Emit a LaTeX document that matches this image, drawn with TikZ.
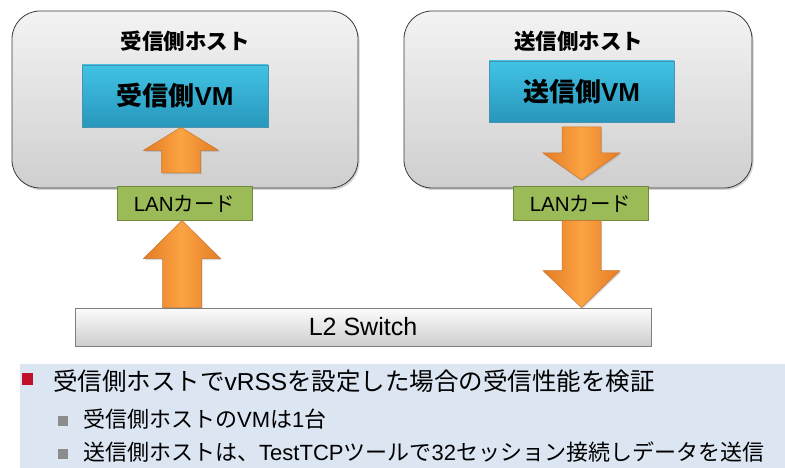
\documentclass[tikz,border=0pt]{standalone}
\usepackage{fontspec}
\setmainfont{Noto Sans CJK JP}
\newfontfamily\latf{Liberation Sans}
\newcommand{\lt}[1]{{\latf #1}}
\usetikzlibrary{calc,shadows}
\definecolor{hostline}{HTML}{3A3A3A}
\definecolor{hosttop}{HTML}{F3F3F3}
\definecolor{hostbot}{HTML}{CFCFCF}
\definecolor{vmtop}{HTML}{41C3E4}
\definecolor{vmbot}{HTML}{2897BC}
\definecolor{vmline}{HTML}{4A93AE}
\definecolor{lanfill}{HTML}{9BBB59}
\definecolor{lanline}{HTML}{71893F}
\definecolor{arrmid}{HTML}{FBA342}
\definecolor{arredge}{HTML}{E47C26}
\definecolor{arrline}{HTML}{C8742E}
\definecolor{swtop}{HTML}{FCFCFC}
\definecolor{swbot}{HTML}{CDCDCD}
\definecolor{swline}{HTML}{7F7F7F}
\definecolor{notebg}{HTML}{DCE6F2}
\definecolor{redsq}{HTML}{C0112B}
\definecolor{graysq}{HTML}{8C8C8C}
\tikzset{
  hostbox/.style={draw=hostline, line width=0.8pt, rounded corners=28pt,
    top color=hosttop, bottom color=hostbot,
    drop shadow={shadow xshift=1.5pt, shadow yshift=-2pt, opacity=0.35},
    minimum width=#1, minimum height=177pt, inner sep=0pt},
  vmbox/.style={draw=vmline, line width=0.6pt, top color=vmtop, bottom color=vmbot,
    drop shadow={shadow xshift=1pt, shadow yshift=-1.5pt, opacity=0.3},
    minimum width=186pt, minimum height=62pt, inner sep=0pt,
    font=\fontsize{26}{30}\selectfont\bfseries},
  lanbox/.style={draw=lanline, line width=1pt, fill=lanfill,
    minimum width=135pt, minimum height=33pt, inner sep=0pt,
    font=\fontsize{20.5}{24}\selectfont},
  swbox/.style={draw=swline, line width=0.8pt, top color=swtop, bottom color=swbot,
    minimum width=576pt, minimum height=38pt, inner sep=0pt,
    font=\fontsize{25}{28}\selectfont\latf},
  titletext/.style={inner sep=0pt, font=\fontsize{21.5}{26}\selectfont\bfseries},
  blockarrow/.style={draw=arrline, line width=0.5pt, left color=arredge,
    right color=arredge, middle color=arrmid,
    drop shadow={shadow xshift=1pt, shadow yshift=-1.5pt, opacity=0.3}},
  linetext/.style={anchor=west, inner sep=0pt},
}
\newcommand{\blockarr}[4]{% tail, tip, head length, head half width
  \path[blockarrow] let \p1=(#1), \p2=(#2), \n1={sign(\y2-\y1)*#3} in
    (\x1-19.5pt,\y1) -- (\x1-19.5pt,{\y2-\n1*1pt}) -- (\x1-#4pt,{\y2-\n1*1pt})
    -- (\x2,\y2) -- (\x1+#4pt,{\y2-\n1*1pt}) -- (\x1+19.5pt,{\y2-\n1*1pt})
    -- (\x1+19.5pt,\y1) -- cycle;}
\begin{document}
\begin{tikzpicture}[x=1pt,y=-1pt]
\useasboundingbox (0,0) rectangle (785,468);
% hosts
\node[hostbox=346pt] (hostL) at (185,99.5) {};
\node[hostbox=348pt] (hostR) at (578,99.5) {};
\node[titletext] (titleL) at (185,41) {受信側ホスト};
\node[titletext] (titleR) at (578.5,41) {送信側ホスト};
% VMs
\node[vmbox] (vmL) at (175,96) {受信側\lt{VM}};
\node[vmbox, minimum width=185pt, minimum height=61pt] (vmR) at (581.5,91.5) {送信側\lt{VM}};
% LAN cards
\node[lanbox] (lanL) at (184.5,203.5) {\lt{LAN}カード};
\node[lanbox] (lanR) at (580.5,203.5) {\lt{LAN}カード};
% switch
\node[swbox] (sw) at (363,327) {L2 Switch};
% arrow end points
\coordinate (a1tail) at (181,173);
\coordinate (a2tail) at (581.5,127);
\coordinate (a2tip) at (581.5,180);
\coordinate (a3x) at (182,0);
\coordinate (a4x) at (581.5,0);
% arrows
\blockarr{a1tail}{vmL.south -| a1tail}{23}{37.5}
\blockarr{a2tail}{a2tip}{27}{38.5}
\blockarr{a3x |- sw.north}{a3x |- lanL.south}{38}{38.5}
\blockarr{a4x |- lanR.south}{a4x |- sw.north}{37}{38.5}
% notes
\fill[notebg] (20,364) rectangle (785,468);
\node[fill=redsq, minimum width=11pt, minimum height=12pt, inner sep=0pt] (sq1) at (27.5,379) {};
\node[linetext, font=\fontsize{24.5}{30}\selectfont] (t1) at (53,381) {受信側ホストで\lt{vRSS}を設定した場合の受信性能を検証};
\node[fill=graysq, minimum width=10pt, minimum height=10pt, inner sep=0pt] (sq2) at (63,420.5) {};
\node[linetext, font=\fontsize{22}{26}\selectfont] (t2) at (83,419) {受信側ホストの\lt{VM}は\lt{1}台};
\node[fill=graysq, minimum width=10pt, minimum height=10pt, inner sep=0pt] (sq3) at (63,454) {};
\node[linetext, font=\fontsize{22}{26}\selectfont] (t3) at (83,452) {送信側ホストは、\lt{TestTCP}ツールで\lt{32}セッション接続しデータを送信};
\end{tikzpicture}
\end{document}
